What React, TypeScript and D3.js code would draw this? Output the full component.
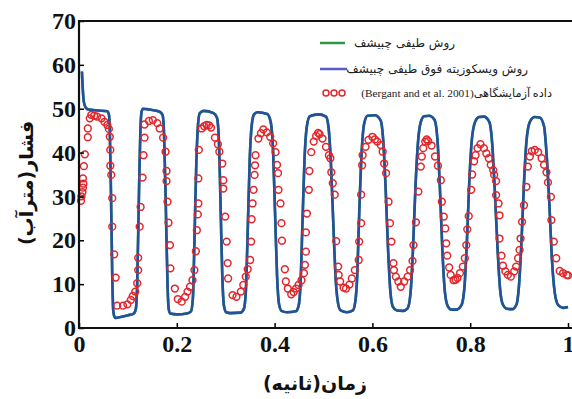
import React, { useEffect, useRef } from 'react';
import * as d3 from 'd3';

// tick values and labels
const xTicks = [0, 0.2, 0.4, 0.6, 0.8, 1];
const yTicks = [0, 10, 20, 30, 40, 50, 60, 70];
const legendLabels = [
  'روش طیفی چبیشف',
  'روش ویسکوزیته فوق طیفی چبیشف',
  'داده آزمایشگاهی(Bergant and et al. 2001)',
];
const xTitle = 'زمان(ثانیه)';
const yTitle = 'فشار(مترآب)';

// [time (s), pressure head (m)] - super spectral viscosity Chebyshev (blue)
const viscosityChebyshev: [number, number][] = [
  [0.006, 58.5], [0.008, 54], [0.010, 51.5], [0.014, 50.2], [0.02, 49.8], [0.04, 49.6],
  [0.058, 49.4], [0.061, 48.8], [0.063, 45], [0.0655, 30], [0.068, 12], [0.070, 4],
  [0.072, 2.7], [0.075, 2.3], [0.085, 2.5], [0.10, 2.9], [0.112, 3.3], [0.116, 4.2],
  [0.119, 10], [0.1225, 30], [0.1255, 45], [0.128, 49.3], [0.131, 50.0], [0.145, 49.8],
  [0.165, 49.3], [0.171, 48.5], [0.174, 44], [0.1775, 28], [0.181, 10], [0.1835, 4.3],
  [0.187, 3.3], [0.20, 3.1], [0.22, 3.3], [0.229, 3.8], [0.233, 7], [0.2365, 22],
  [0.240, 38], [0.2435, 46.5], [0.247, 49], [0.255, 49.5], [0.275, 49], [0.282, 48],
  [0.286, 43], [0.2895, 28], [0.293, 12], [0.2965, 5], [0.301, 3.6], [0.31, 3.4],
  [0.33, 3.5], [0.337, 4.3], [0.341, 8], [0.345, 22], [0.349, 38], [0.353, 46],
  [0.358, 48.7], [0.365, 49.2], [0.385, 48.8], [0.392, 47], [0.397, 40], [0.401, 26],
  [0.405, 12], [0.409, 5.5], [0.414, 3.9], [0.425, 3.6], [0.443, 3.8], [0.449, 5],
  [0.453, 10], [0.457, 24], [0.461, 38], [0.466, 46], [0.472, 48.3], [0.49, 48.7],
  [0.505, 48.2], [0.51, 46], [0.515, 38], [0.52, 24], [0.525, 11], [0.53, 5.5],
  [0.535, 4], [0.548, 3.6], [0.56, 4], [0.565, 6], [0.569, 12], [0.573, 26],
  [0.578, 40], [0.583, 46.5], [0.59, 48.4], [0.605, 48.5], [0.617, 47.3], [0.622, 43],
  [0.627, 32], [0.632, 18], [0.637, 8], [0.642, 4.8], [0.65, 4], [0.662, 3.9],
  [0.672, 4.5], [0.678, 8], [0.683, 18], [0.688, 32], [0.693, 42], [0.699, 47],
  [0.706, 48.3], [0.716, 48.4], [0.727, 47.5], [0.733, 43], [0.738, 32], [0.743, 18],
  [0.748, 8.5], [0.754, 5], [0.762, 4.2], [0.772, 4.2], [0.782, 5.2], [0.788, 9],
  [0.793, 19], [0.798, 33], [0.803, 42.5], [0.81, 47], [0.818, 48.1], [0.828, 48.2],
  [0.839, 47], [0.845, 42], [0.850, 32], [0.856, 18], [0.861, 9], [0.867, 5.3],
  [0.875, 4.4], [0.886, 4.3], [0.895, 5.5], [0.900, 10], [0.905, 20], [0.910, 33],
  [0.915, 42.5], [0.922, 47], [0.932, 48.1], [0.942, 48], [0.951, 46], [0.956, 40],
  [0.962, 28], [0.967, 16], [0.973, 8], [0.98, 5.2], [0.99, 4.6], [1.0, 4.8],
];

// spectral Chebyshev (green) - hidden under the blue curve in the figure
const spectralChebyshev: [number, number][] = viscosityChebyshev;

// [time (s), pressure head (m)] - experimental data
const experimental: [number, number][] = [
  [0.004, 29.0], [0.005, 30.0], [0.007, 31.0], [0.008, 32.0], [0.009, 32.9], [0.008, 34.1],
  [0.010, 36.9], [0.012, 39.6], [0.018, 43.5], [0.018, 45.5], [0.022, 47.8], [0.025, 48.6],
  [0.031, 48.4], [0.037, 48.2], [0.046, 47.8], [0.052, 47.0], [0.058, 46.3], [0.061, 45.4],
  [0.063, 43.6], [0.064, 40.6], [0.064, 37.0], [0.066, 34.9], [0.068, 29.6], [0.068, 23.1],
  [0.072, 16.8], [0.075, 11.5], [0.078, 5.1], [0.090, 5.1], [0.099, 5.4], [0.106, 6.4],
  [0.110, 7.3], [0.115, 8.3], [0.119, 10.2], [0.121, 13.2], [0.121, 16.0], [0.124, 23.1],
  [0.126, 27.6], [0.130, 34.3], [0.132, 39.4], [0.134, 43.4], [0.134, 46.4], [0.143, 47.2],
  [0.151, 47.4], [0.160, 46.7], [0.165, 45.5], [0.172, 43.4], [0.177, 40.2], [0.179, 35.8],
  [0.179, 33.5], [0.181, 28.8], [0.183, 24.0], [0.186, 18.9], [0.187, 13.6], [0.196, 9.0],
  [0.202, 6.6], [0.210, 6.0], [0.217, 7.1], [0.222, 8.3], [0.227, 9.4], [0.232, 10.9],
  [0.236, 13.2], [0.239, 17.5], [0.241, 22.3], [0.243, 25.9], [0.244, 28.4], [0.244, 34.1],
  [0.245, 40.6], [0.251, 45.5], [0.256, 46.0], [0.261, 46.3], [0.266, 46.2], [0.270, 45.7],
  [0.278, 43.4], [0.284, 41.9], [0.287, 40.2], [0.293, 37.5], [0.295, 33.7], [0.295, 31.8],
  [0.299, 25.4], [0.302, 19.7], [0.304, 14.8], [0.305, 11.3], [0.314, 7.5], [0.322, 7.1],
  [0.331, 8.3], [0.336, 9.8], [0.341, 11.7], [0.345, 13.4], [0.350, 15.5], [0.352, 19.7],
  [0.353, 24.8], [0.355, 28.4], [0.357, 31.5], [0.359, 34.9], [0.360, 37.1], [0.361, 39.4],
  [0.367, 43.2], [0.372, 44.4], [0.377, 45.3], [0.384, 44.6], [0.391, 43.6], [0.397, 42.1],
  [0.402, 40.1], [0.405, 37.2], [0.407, 35.3], [0.408, 31.5], [0.412, 28.4], [0.414, 23.9],
  [0.415, 19.9], [0.421, 13.4], [0.423, 10.6], [0.427, 9.0], [0.434, 7.7], [0.439, 8.2],
  [0.444, 9.0], [0.449, 9.8], [0.455, 10.9], [0.460, 12.5], [0.462, 14.4], [0.464, 17.4],
  [0.464, 21.8], [0.466, 26.1], [0.470, 31.5], [0.471, 35.8], [0.475, 40.1], [0.480, 42.5],
  [0.485, 43.8], [0.489, 44.5], [0.492, 44.2], [0.498, 43.2], [0.505, 41.3], [0.511, 39.4],
  [0.514, 38.7], [0.516, 35.5], [0.519, 33.0], [0.523, 30.4], [0.526, 19.8], [0.530, 14.0],
  [0.531, 12.1], [0.534, 10.6], [0.541, 9.2], [0.546, 9.0], [0.553, 9.9], [0.558, 11.3],
  [0.564, 13.2], [0.572, 15.5], [0.573, 19.7], [0.577, 23.9], [0.577, 30.4], [0.579, 37.1],
  [0.580, 39.4], [0.586, 41.3], [0.592, 42.9], [0.600, 43.6], [0.605, 43.0], [0.610, 42.5],
  [0.617, 41.7], [0.621, 40.2], [0.624, 37.5], [0.628, 35.3], [0.633, 28.8], [0.636, 23.9],
  [0.639, 19.7], [0.643, 14.8], [0.644, 13.2], [0.648, 11.7], [0.653, 10.6], [0.658, 9.4],
  [0.665, 10.6], [0.672, 11.7], [0.677, 13.2], [0.682, 15.3], [0.684, 18.9], [0.689, 24.1],
  [0.694, 31.1], [0.699, 36.8], [0.701, 39.1], [0.704, 41.0], [0.708, 42.5], [0.711, 43.0],
  [0.714, 42.6], [0.721, 41.6], [0.728, 39.1], [0.734, 37.0], [0.740, 33.7], [0.742, 28.8],
  [0.746, 25.4], [0.749, 22.7], [0.751, 19.3], [0.753, 16.5], [0.757, 13.8], [0.760, 12.1],
  [0.766, 10.9], [0.770, 11.0], [0.774, 11.4], [0.779, 12.5], [0.785, 14.0], [0.789, 15.9],
  [0.792, 18.9], [0.794, 22.5], [0.797, 25.5], [0.802, 31.5], [0.804, 35.0], [0.808, 38.0],
  [0.811, 39.4], [0.815, 41.0], [0.821, 41.9], [0.828, 41.0], [0.833, 39.8], [0.838, 38.7],
  [0.842, 37.2], [0.847, 36.0], [0.849, 34.9], [0.853, 33.5], [0.853, 30.3], [0.858, 28.4],
  [0.860, 25.7], [0.860, 20.4], [0.864, 16.5], [0.867, 14.2], [0.872, 12.9], [0.877, 12.1],
  [0.883, 11.7], [0.890, 12.9], [0.894, 14.0], [0.898, 15.9], [0.901, 17.8], [0.903, 20.4],
  [0.906, 24.2], [0.910, 28.0], [0.915, 32.2], [0.918, 36.8], [0.922, 39.1], [0.926, 40.3],
  [0.932, 40.6], [0.939, 40.1], [0.946, 38.7], [0.951, 37.2], [0.956, 35.5], [0.959, 33.2],
  [0.965, 29.9], [0.966, 24.6], [0.971, 19.7], [0.976, 15.9], [0.983, 13.0], [0.990, 12.5],
  [0.997, 12.1], [1.0, 12.0],
];

const App = () => {
  const svgRef = useRef<SVGSVGElement>(null);
  const width = 572;
  const height = 399;
  const margin = { top: 21, right: 4, bottom: 71, left: 79 };

  useEffect(() => {
    const svg = d3.select(svgRef.current);

    const xScale = d3.scaleLinear()
      .domain([0, 1])
      .range([margin.left, width - margin.right]);

    const yScale = d3.scaleLinear()
      .domain([0, 70])
      .range([height - margin.bottom, margin.top]);

    const tickFont = (g: any) => g
      .attr('font-size', 24)
      .attr('font-weight', 'bold')
      .attr('font-family', '"Liberation Serif", "Times New Roman", serif')
      .call((s: any) => s.selectAll('text').attr('fill', '#111'))
      .call((s: any) => s.selectAll('.tick line').attr('stroke-width', 1.5))
      .call((s: any) => s.select('.domain').remove());

    svg.select('.x-axis')
      .call(d3.axisBottom(xScale)
        .tickValues(xTicks)
        .tickSizeInner(-5)
        .tickSizeOuter(0)
        .tickPadding(7)
        .tickFormat(d3.format('~g')) as any)
      .call(tickFont);

    svg.select('.y-axis')
      .call(d3.axisLeft(yScale)
        .tickValues(yTicks)
        .tickSizeInner(-5)
        .tickSizeOuter(0)
        .tickPadding(3) as any)
      .call(tickFont);

    const line = d3.line<[number, number]>()
      .x(d => xScale(d[0]))
      .y(d => yScale(d[1]))
      .curve(d3.curveMonotoneX);

    svg.select('.lines')
      .selectAll('path')
      .data([
        { values: spectralChebyshev, color: '#2e9a48' },
        { values: viscosityChebyshev, color: '#24509e' },
      ])
      .join('path')
      .attr('d', d => line(d.values))
      .attr('fill', 'none')
      .attr('stroke', d => d.color)
      .attr('stroke-width', 2.6)
      .attr('stroke-linejoin', 'round');

    svg.select('.points')
      .selectAll('circle')
      .data(experimental)
      .join('circle')
      .attr('cx', d => xScale(d[0]))
      .attr('cy', d => yScale(d[1]))
      .attr('r', 3.4)
      .attr('fill', 'none')
      .attr('stroke', '#e3262b')
      .attr('stroke-width', 1.5);

    // frame: left, bottom and top edges
    svg.select('.frame')
      .selectAll('path')
      .data([0])
      .join('path')
      .attr('d', `M${width},${yScale(70)}H${xScale(0)}V${yScale(0)}H${width}`)
      .attr('fill', 'none')
      .attr('stroke', '#111')
      .attr('stroke-width', 2.2);
  }, []);

  const arabicFont = '"DejaVu Sans", sans-serif';

  return (
    <svg
      ref={svgRef}
      width={width}
      height={height}
      viewBox={`0 0 ${width} ${height}`}
      style={{ position: 'absolute', left: 0, top: 0, background: '#fff' }}>
      <g className="lines" />
      <g className="points" />
      <g className="x-axis" transform={`translate(0, ${height - margin.bottom})`} />
      <g className="y-axis" transform={`translate(${margin.left}, 0)`} />
      <g className="frame" />

      <g className="legend" fontFamily={arabicFont} fontSize={12} fill="#222">
        <line x1={320} x2={345} y1={43} y2={43} stroke="#2e9a48" strokeWidth={2.5} />
        <text x={455} y={43} dy="0.35em" direction="rtl" textAnchor="start">{legendLabels[0]}</text>
        <line x1={320} x2={347} y1={69} y2={69} stroke="#5a5acb" strokeWidth={2.5} />
        <text x={528} y={69} dy="0.35em" direction="rtl" textAnchor="start">{legendLabels[1]}</text>
        {[326, 334, 342].map(cx => (
          <circle key={cx} cx={cx} cy={93} r={3} fill="none" stroke="#e3262b" strokeWidth={1.5} />
        ))}
        <text x={552} y={93} dy="0.35em" direction="rtl" textAnchor="start" fontSize={11.3}
          fontFamily={'"Liberation Serif", "DejaVu Sans", serif'}>{legendLabels[2]}</text>
      </g>

      <text x={315} y={390} fontFamily={arabicFont} fontSize={19} fontWeight="bold"
        direction="rtl" textAnchor="middle" fill="#111">{xTitle}</text>
      <text transform="translate(33, 183) rotate(-90)" fontFamily={arabicFont} fontSize={19}
        fontWeight="bold" direction="rtl" textAnchor="middle" fill="#111">{yTitle}</text>
    </svg>
  );
};

export default App;
